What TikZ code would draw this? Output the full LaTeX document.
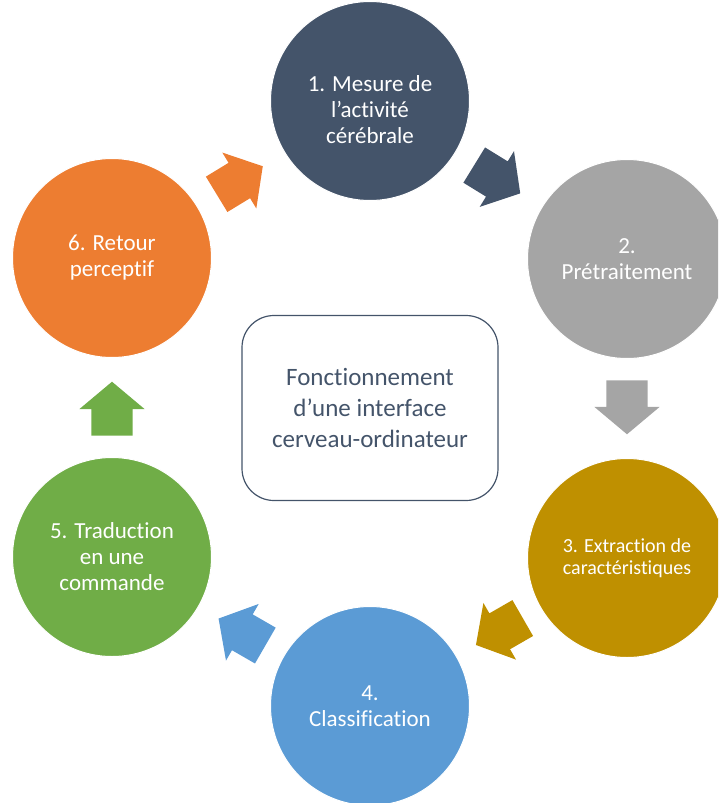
\documentclass[tikz,border=0pt]{standalone}
\usepackage{fontspec}
\setmainfont{Carlito}[Ligatures={TeX,NoCommon}]
\usetikzlibrary{shapes.arrows}

\definecolor{cDark}{HTML}{44546A}
\definecolor{cGray}{HTML}{A5A5A5}
\definecolor{cGold}{HTML}{BF9000}
\definecolor{cBlue}{HTML}{5B9BD5}
\definecolor{cGreen}{HTML}{70AD47}
\definecolor{cOrange}{HTML}{ED7D31}

\begin{document}
\begin{tikzpicture}[
  x=1pt, y=-1pt,
  caption/.style={text=white, align=center, font=\fontsize{23}{26}\selectfont},
  stage/.style={circle, draw=white, line width=1pt, minimum size=199pt,
    inner sep=0pt, caption},
  flow/.style={single arrow, pos=0.4, sloped, allow upside down, inner xsep=0pt,
    inner ysep=20.5pt, outer sep=0pt, minimum height=54pt,
    single arrow head extend=12pt, single arrow tip angle=100},
  hub/.style={rounded corners=32pt, draw=cDark, line width=1.2pt,
    minimum width=256pt, minimum height=185pt, text=cDark, align=center,
    font=\fontsize{25}{31}\selectfont},
]
\useasboundingbox (0,0) rectangle (718,803);
\clip (0,0) rectangle (718,803);

% stages of the cycle
\node [stage, fill=cDark,
  label={[caption, yshift=-9pt]center:{1. Mesure de\\l’activité\\cérébrale}}]
  (measure) at (370,101) {};
\node [stage, fill=cGray] (prep) at (627,259) {2.\\Prétraitement};
\node [stage, fill=cGold, font=\fontsize{20}{22.5}\selectfont]
  (extract) at (627,558) {3. Extraction de\\caractéristiques};
\node [stage, fill=cBlue] (classify) at (370,706) {4.\\Classification};
\node [stage, fill=cGreen] (translate) at (112,557) {5. Traduction\\en une\\commande};
\node [stage, fill=cOrange] (feedback) at (112,258) {6. Retour\\perceptif};

% centre box
\node [hub] (hub) at (370,408) {Fonctionnement\\d’une interface\\cerveau-ordinateur};

% block arrows between stages
\path (measure) -- node [flow, fill=cDark] {} (prep);
\path (prep) -- node [flow, fill=cGray] {} (extract);
\path (extract) -- node [flow, fill=cGold] {} (classify);
\path (classify) -- node [flow, fill=cBlue] {} (translate);
\path (translate) -- node [flow, fill=cGreen] {} (feedback);
\path (feedback) -- node [flow, fill=cOrange] {} (measure);
\end{tikzpicture}
\end{document}
